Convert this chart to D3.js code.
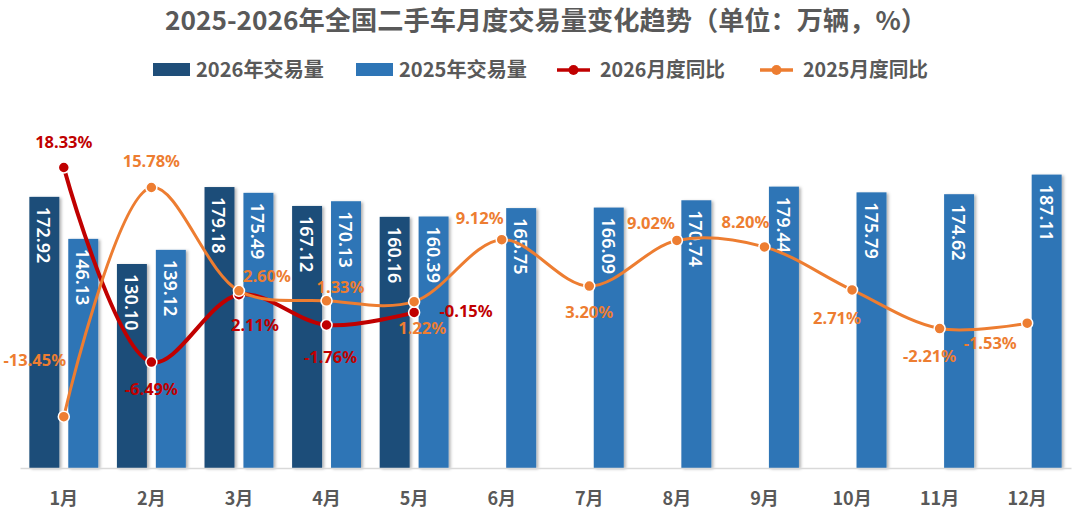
<!DOCTYPE html>
<html>
<head>
<meta charset="utf-8">
<script src="https://cdn.jsdelivr.net/npm/d3@7"></script>
<style>
  body { margin: 0; background: #fff; }
  svg { display: block; font-family: "Noto Sans CJK SC", "Noto Sans", sans-serif; }
</style>
</head>
<body>
<svg id="chart" width="1080" height="516"></svg>
<script>
// data
const months = ['1月', '2月', '3月', '4月', '5月', '6月', '7月', '8月', '9月', '10月', '11月', '12月'];
const vol2026 = [172.92, 130.10, 179.18, 167.12, 160.16];
const vol2025 = [146.13, 139.12, 175.49, 170.13, 160.39, 165.75, 166.09, 170.74, 179.44, 175.79, 174.62, 187.11];
const yoy2026 = [18.33, -6.49, 2.11, -1.76, -0.15];
const yoy2025 = [-13.45, 15.78, 2.60, 1.33, 1.22, 9.12, 3.20, 9.02, 8.20, 2.71, -2.21, -1.53];

// label placement around each point (dx, dy)
const place2026 = [[0, -26], [0, 26], [16, 30], [4, 32], [52, -2]];
const place2025 = [[-29, -57], [0, -27], [28, -15], [14, -14], [8, 26], [-22, -22],
  [0, 25], [-26, -18], [-19, -25], [-15, 28], [-10, 27], [-37, 19]];

const svg = d3.select('#chart');
const c26 = '#1F4E79', c25 = '#2E75B6', red = '#C00000', orange = '#ED7D31', grey = '#595959';

const x = d3.scaleBand(months, [20, 1071]);
const sub = d3.scaleBand(['2026', '2025'], [0, x.bandwidth()]).paddingInner(0.23).paddingOuter(0.24);
const yBar = d3.scaleLinear([0, 250], [468, 76]);
const yPct = d3.scaleLinear([-20, 30], [468, 76]);
const cx = i => x(months[i]) + x.bandwidth() / 2;

// bar shadow
const f = svg.append('defs').append('filter').attr('id', 'sh')
  .attr('x', '-20%').attr('y', '-10%').attr('width', '150%').attr('height', '130%');
f.append('feDropShadow').attr('dx', 2).attr('dy', 1).attr('stdDeviation', 1.5)
  .attr('flood-color', '#000').attr('flood-opacity', 0.3);

// title
svg.append('text').attr('x', 165).attr('y', 30)
  .attr('textLength', 762).attr('lengthAdjust', 'spacingAndGlyphs')
  .attr('font-size', 26).attr('font-weight', 'bold').attr('fill', grey)
  .text('2025-2026年全国二手车月度交易量变化趋势（单位：万辆，%）');

// legend
const leg = svg.append('g').attr('font-size', 20).attr('font-weight', 'bold').attr('fill', grey);
[[153, c26, '2026年交易量'], [356, c25, '2025年交易量']].forEach(([lx, col, t]) => {
  leg.append('rect').attr('x', lx).attr('y', 63).attr('width', 37).attr('height', 13).attr('fill', col);
  leg.append('text').attr('x', lx + 43).attr('y', 77).attr('textLength', 128)
    .attr('lengthAdjust', 'spacingAndGlyphs').text(t);
});
[[557, red, '2026月度同比'], [760, orange, '2025月度同比']].forEach(([lx, col, t]) => {
  leg.append('line').attr('x1', lx).attr('x2', lx + 33).attr('y1', 70).attr('y2', 70)
    .attr('stroke', col).attr('stroke-width', 3.5);
  leg.append('circle').attr('cx', lx + 16.5).attr('cy', 70).attr('r', 5).attr('fill', col);
  leg.append('text').attr('x', lx + 43).attr('y', 77).attr('textLength', 125)
    .attr('lengthAdjust', 'spacingAndGlyphs').text(t);
});

// bars
function bars(vals, key, col) {
  const g = svg.append('g');
  g.selectAll('rect').data(vals).join('rect')
    .attr('x', (d, i) => x(months[i]) + sub(key))
    .attr('y', d => yBar(d))
    .attr('width', sub.bandwidth())
    .attr('height', d => yBar(0) - yBar(d))
    .attr('fill', col).attr('filter', 'url(#sh)');
  g.selectAll('text').data(vals).join('text')
    .attr('transform', (d, i) => `translate(${x(months[i]) + sub(key) + sub.bandwidth() / 2},${yBar(d) + 10}) rotate(90)`)
    .attr('dominant-baseline', 'central')
    .attr('font-family', '"Noto Sans", sans-serif')
    .attr('font-size', 18).attr('font-weight', 600).attr('fill', '#fff')
    .text(d => d.toFixed(2));
}
bars(vol2026, '2026', c26);
bars(vol2025, '2025', c25);

// axis
const xAxis = svg.append('g').attr('transform', `translate(0,${yBar(0)})`)
  .call(d3.axisBottom(x).tickSize(0).tickPadding(24));
xAxis.select('.domain').attr('stroke', '#d9d9d9').attr('stroke-width', 1.5);
xAxis.selectAll('text').attr('font-size', 18).attr('font-weight', 'bold').attr('fill', grey)
  .attr('font-family', '"Noto Sans CJK SC", sans-serif');

// lines
const line = d3.line().x((d, i) => cx(i)).y(d => yPct(d)).curve(d3.curveCatmullRom.alpha(0.5));
function series(vals, col, w) {
  const g = svg.append('g');
  g.append('path').datum(vals).attr('d', line).attr('fill', 'none')
    .attr('stroke', col).attr('stroke-width', w);
  g.selectAll('circle').data(vals).join('circle')
    .attr('cx', (d, i) => cx(i)).attr('cy', d => yPct(d)).attr('r', 5.5)
    .attr('fill', col).attr('stroke', '#fff').attr('stroke-width', 1.5);
}
series(yoy2026, red, 4);
series(yoy2025, orange, 3);

function labels(vals, col, place) {
  svg.append('g').selectAll('text').data(vals).join('text')
    .attr('x', (d, i) => cx(i) + place[i][0])
    .attr('y', (d, i) => yPct(d) + place[i][1])
    .attr('text-anchor', 'middle').attr('dominant-baseline', 'central')
    .attr('font-family', '"Noto Sans", sans-serif')
    .attr('font-size', 16.5).attr('font-weight', 'bold').attr('fill', col)
    .text(d => d.toFixed(2) + '%');
}
labels(yoy2026, red, place2026);
labels(yoy2025, orange, place2025);
</script>
</body>
</html>
